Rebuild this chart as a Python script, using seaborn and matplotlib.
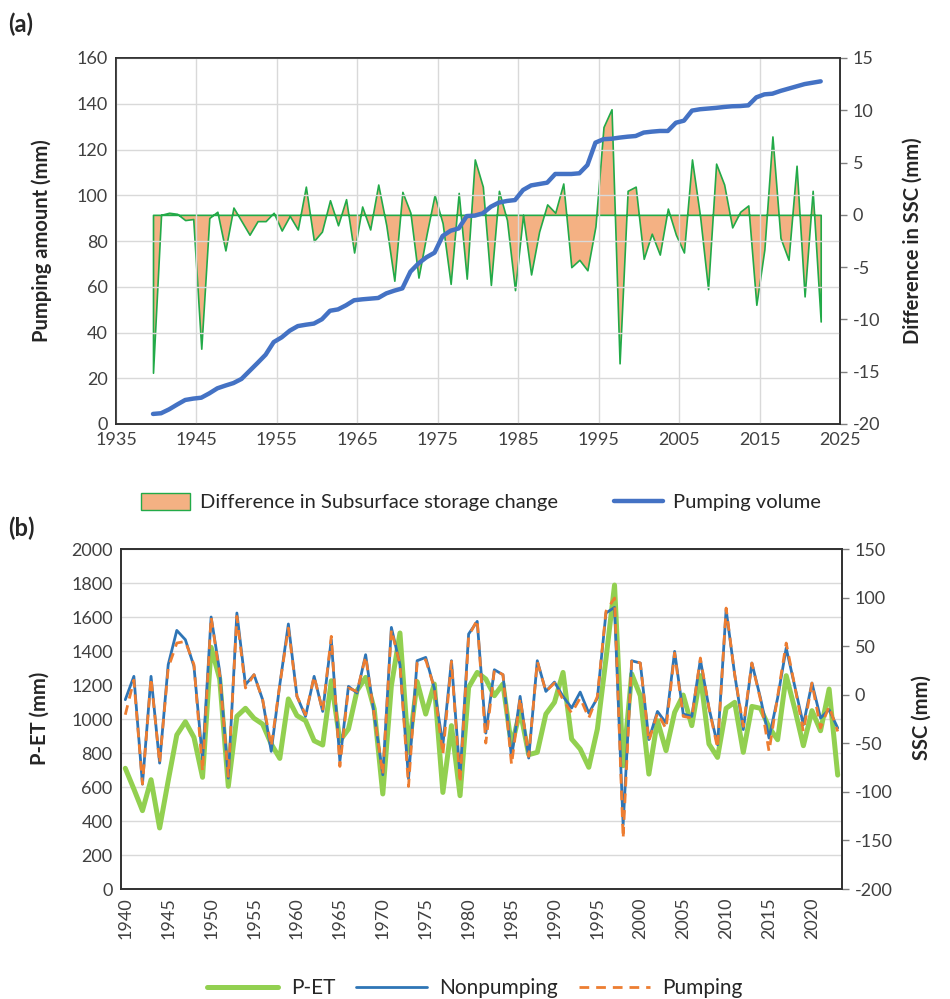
import numpy as np
import pandas as pd
import matplotlib
matplotlib.use("Agg")
import matplotlib.pyplot as plt
from matplotlib.patches import Patch
from matplotlib.lines import Line2D
import seaborn as sns

# ---------------- data ----------------
years = list(range(1940, 2024))

ssc_diff = [-15.1, 0.0, 0.2, 0.1, -0.5, -0.4, -12.8, -0.3, 0.3, -3.4, 0.7, -0.6, -1.9,
            -0.6, -0.6, 0.2, -1.5, -0.1, -1.4, 2.7, -2.5, -1.6, 1.4, -1.0, 1.5, -3.6,
            0.8, -1.4, 2.9, -1.0, -6.3, 2.2, 0.2, -6.0, -1.9, 1.9, -0.8, -6.6, 2.1, -6.1,
            5.3, 2.7, -6.7, 2.3, -0.5, -7.2, 0.0, -5.7, -1.6, 1.0, 0.2, 3.0, -5.0, -4.3, -5.3,
            -1.1, 8.4, 10.1, -14.2, 2.3, 2.7, -4.2, -1.8, -3.8, 0.6, -1.9, -3.6, 5.3, -0.1,
            -7.1, 4.9, 2.9, -1.2, 0.3, 0.9, -8.6, -3.3, 7.5, -2.2, -4.3, 4.7, -7.8, 2.3, -10.2]

pumping_volume = [4.4, 4.7, 6.4, 8.5, 10.5, 11.1, 11.5, 13.4, 15.6, 16.8, 17.9, 19.7, 23.2,
                  26.7, 30.3, 35.8, 37.9, 40.8, 42.8, 43.4, 43.9, 45.8, 49.5, 50.1, 51.9, 54.1,
                  54.5, 54.8, 55.1, 57.1, 58.3, 59.3, 66.6, 70.2, 72.9, 74.9, 82.2, 84.5, 85.5,
                  90.9, 91.1, 92.1, 95.0, 96.8, 97.5, 97.9, 102.3, 104.3, 104.9, 105.5, 109.3,
                  109.3, 109.3, 109.6, 113.2,
                  123.0, 124.5, 124.7, 125.2, 125.6, 125.9, 127.4, 127.8, 128.1, 128.1, 131.7,
                  132.6, 137.0, 137.6, 137.9, 138.2, 138.6, 138.9, 139.0, 139.3, 142.8, 144.1,
                  144.4, 145.6, 146.6, 147.6, 148.6, 149.2, 149.8]

p_et = [710, 588, 461, 643, 359, 637, 906, 984, 892, 657, 1422, 1235, 604, 1016,
        1063, 1004, 970, 853, 768, 1118, 1020, 990, 872, 847, 1225, 872, 941, 1167,
        1245, 1059, 559, 1196, 1506, 804, 1220, 1029, 1206, 568, 961, 549, 1186, 1274,
        1235, 1137, 1206, 839, 1049, 790, 804, 1029, 1098, 1274, 882, 823, 716, 941,
        1353, 1788, 725, 1265, 1137, 676, 990, 814, 1039, 1141, 961, 1255, 853, 774,
        1063, 1098, 804, 1074, 1063, 951, 878, 1255, 1059, 843, 1049, 931, 1176, 670]

ssc_nonpumping = [-5.1, 18.9, -92.0, 18.9, -70.4, 30.9, 66.2, 56.6, 29.2, -67.0, 80.0, 24.0, -85.8, 84.1,
                  10.3, 20.6, -5.1, -58.3, 10.3, 72.8, -1.7, -22.3, 18.9, -17.2, 56.6, -68.6, 8.6, 1.7,
                  41.2, -20.6, -82.4, 69.3, 30.9, -86.5, 35.0, 38.4, 6.9, -51.5, 35.0, -84.1, 62.5, 75.5,
                  -39.5, 25.7, 20.6, -65.2, -1.7, -65.2, 35.0, 3.4, 13.0, -1.7, -13.7, 2.7, -18.9, -3.4,
                  84.1, 89.9, -134.0, 35.0, 32.6, -46.2, -17.2, -29.2, 44.6, -19.9, -22.3, 36.0, -13.7, -51.5,
                  87.5, 20.6, -35.9, 32.6, -3.4, -44.6, -3.4, 48.0, 8.6, -30.9, 12.0, -24.0, -15.4, -34.3]

ssc_pumping = [-20.6, 15.0, -92.0, 17.2, -70.4, 27.5, 53.2, 54.9, 30.9, -78.9, 80.0, 20.6, -84.1, 80.6,
               6.9, 20.6, -5.1, -53.2, 10.3, 68.6, -1.7, -20.6, 18.9, -17.2, 60.1, -73.8, 6.9, 3.4,
               39.5, -20.6, -82.4, 66.9, 30.9, -94.4, 32.6, 36.0, 6.9, -61.8, 34.3, -90.9, 60.1, 77.2,
               -49.8, 25.7, 20.6, -72.1, -3.4, -63.5, 34.3, 3.4, 12.0, -5.1, -18.9, -3.4, -24.0, -1.7,
               85.8, 99.5, -148.0, 36.0, 32.6, -47.9, -18.9, -35.0, 42.9, -22.3, -24.0, 37.8, -13.7, -54.9,
               89.2, 20.6, -32.6, 32.6, -5.1, -58.3, -1.7, 53.2, 8.6, -37.8, 12.0, -34.3, -12.0, -37.8]

# ---------------- style ----------------
sns.set_style("white")
plt.rcParams['font.family'] = ['Lato', 'DejaVu Sans']
plt.rcParams['axes.unicode_minus'] = False
TICK_C = '#404040'
GRID_C = '#d9d9d9'
FS_TICK = 13
FS_LAB = 14.5

dfa = pd.DataFrame({'x': np.array(years) - 0.4, 'diff': ssc_diff, 'pump': pumping_volume})
dfb = pd.DataFrame({'year': years, 'pet': p_et, 'non': ssc_nonpumping, 'pmp': ssc_pumping})

fig = plt.figure(figsize=(9.5, 9.99), dpi=100)

# ================= panel (a) =================
ax = fig.add_axes([116/950, 1-424/999, 724/950, 366/999])
axr = ax.twinx()
ax.set_zorder(axr.get_zorder() + 1)
ax.patch.set_visible(False)

axr.fill_between(dfa['x'], dfa['diff'], 0, facecolor='#F4B183', edgecolor='#22AA48', lw=1.2)
sns.lineplot(data=dfa, x='x', y='pump', ax=ax, color='#4472C4', lw=3.2)

ax.set_xlim(1935, 2025)
ax.set_ylim(0, 160)
axr.set_ylim(-20, 15)
ax.set_xticks(range(1935, 2026, 10))
ax.set_yticks(range(0, 161, 20))
axr.set_yticks(range(-20, 16, 5))
ax.grid(True, color=GRID_C, lw=1)
axr.grid(False)
ax.set_xlabel('')
ax.set_ylabel('')
axr.set_ylabel('')
ax.tick_params(axis='both', length=0, labelsize=FS_TICK, labelcolor=TICK_C, pad=6)
axr.tick_params(axis='y', length=5, width=1, color='#808080', labelsize=FS_TICK, labelcolor=TICK_C, pad=4)
for a in (ax, axr):
    for s in a.spines.values():
        s.set_color('#303030')
        s.set_linewidth(1.2)

# ================= panel (b) =================
bx = fig.add_axes([121/950, 1-889/999, 721/950, 340/999])
bxr = bx.twinx()

sns.lineplot(data=dfb, x='year', y='pet', ax=bx, color='#92D050', lw=3.6)
sns.lineplot(data=dfb, x='year', y='non', ax=bxr, color='#2E75B6', lw=2.0)
sns.lineplot(data=dfb, x='year', y='pmp', ax=bxr, color='#ED7D31', lw=2.0, dashes=False,
             linestyle=(0, (3.5, 2.5)))

bx.set_xlim(1939.5, 2023.5)
bx.set_ylim(0, 2000)
bxr.set_ylim(-200, 150)
bx.set_xticks(range(1940, 2021, 5))
bx.set_yticks(range(0, 2001, 200))
bxr.set_yticks(range(-200, 151, 50))
bx.grid(True, axis='y', color=GRID_C, lw=1)
bx.grid(False, axis='x')
bxr.grid(False)
bx.set_xlabel('')
bx.set_ylabel('')
bxr.set_ylabel('')
bx.tick_params(axis='x', length=0, labelsize=FS_TICK, labelcolor=TICK_C, rotation=90, pad=6)
bx.tick_params(axis='y', length=0, labelsize=FS_TICK, labelcolor=TICK_C, pad=6)
bxr.tick_params(axis='y', length=5, width=1, color='#808080', labelsize=FS_TICK, labelcolor=TICK_C, pad=4)
for a in (bx, bxr):
    for s in a.spines.values():
        s.set_color('#303030')
        s.set_linewidth(1.2)

# ================= texts =================
fig.text(8/950, 1-24/999, '(a)', fontsize=17, fontweight='bold', ha='left', va='center')
fig.text(8/950, 1-528/999, '(b)', fontsize=17, fontweight='bold', ha='left', va='center')
fig.text(42/950, 1-241/999, 'Pumping amount (mm)', rotation=90, ha='center', va='center',
         fontsize=FS_LAB, fontweight='bold')
fig.text(913/950, 1-241/999, 'Difference in SSC (mm)', rotation=90, ha='center', va='center',
         fontsize=FS_LAB, fontweight='bold')
fig.text(40/950, 1-718/999, 'P-ET (mm)', rotation=90, ha='center', va='center',
         fontsize=FS_LAB, fontweight='bold')
fig.text(922/950, 1-718/999, 'SSC (mm)', rotation=90, ha='center', va='center',
         fontsize=FS_LAB, fontweight='bold')

# ================= legends =================
h_a = [Patch(facecolor='#F4B183', edgecolor='#22AA48', lw=1.0),
       Line2D([0], [0], color='#4472C4', lw=3.2)]
fig.legend(h_a, ['Difference in Subsurface storage change', 'Pumping volume'],
           loc='center', bbox_to_anchor=(481/950, 1-502/999), ncol=2, frameon=False,
           fontsize=14.5, handlelength=2.4, handleheight=0.9, columnspacing=2.8,
           handletextpad=0.5)

h_b = [Line2D([0], [0], color='#92D050', lw=3.6),
       Line2D([0], [0], color='#2E75B6', lw=2.0),
       Line2D([0], [0], color='#ED7D31', lw=2.0, linestyle=(0, (3.5, 2.5)))]
fig.legend(h_b, ['P-ET', 'Nonpumping', 'Pumping'],
           loc='center', bbox_to_anchor=(475/950, 1-988/999), ncol=3, frameon=False,
           fontsize=15, handlelength=3.4, columnspacing=1.0, handletextpad=0.6)

fig.savefig('out.png', dpi=100)
